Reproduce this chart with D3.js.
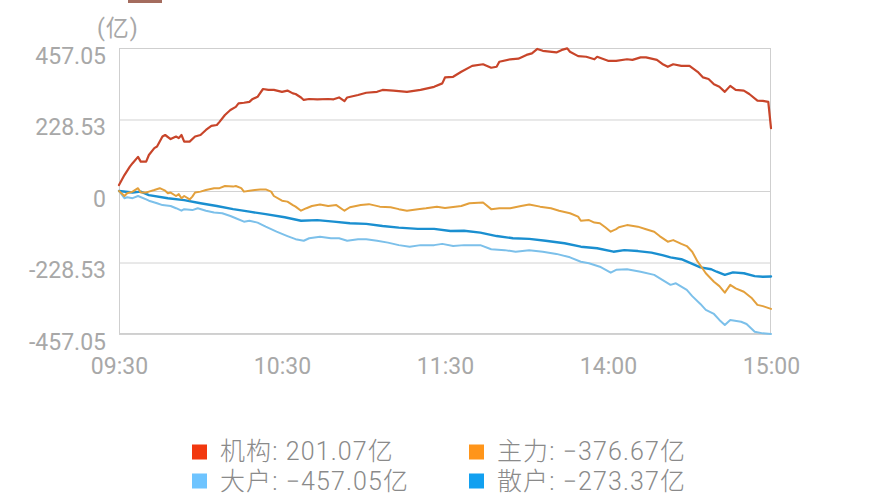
<!DOCTYPE html>
<html><head><meta charset="utf-8">
<script src="https://cdn.jsdelivr.net/npm/d3@7"></script>
<style>
html,body{margin:0;padding:0;background:#fff;}
svg{display:block;font-family:Roboto,"Noto Sans CJK SC",sans-serif;}
</style></head>
<body>
<svg id="chart" width="891" height="500"></svg>
<script>
// ---- data ----
const xTickMinutes = [0, 60, 120, 180, 240];
const xTickLabels = ["09:30", "10:30", "11:30", "14:00", "15:00"];
const yTicks = [457.05, 228.53, 0, -228.53, -457.05];
const yTickLabels = ["457.05", "228.53", "0", "-228.53", "-457.05"];
const unitLabel = "(亿)";
const seriesNames = ["机构", "主力", "大户", "散户"];
const seriesFinal = ["201.07", "−376.67", "−457.05", "−273.37"];

// [minute index, value 亿]
const jigou = [[0,19],[2,51],[4,78],[5,89],[7,109],[8,94],[10,94],[11,115],[13,137],[14,142],[16,174],[17,179],[19,166],[21,174],[22,169],[23,179],[24,158],[26,158],[28,174],[30,179],[32,195],[34,208],[36,211],[37,221],[39,243],[41,259],[43,269],[44,280],[46,282],[48,285],[49,293],[51,301],[53,326],[55,323],[57,323],[60,317],[62,321],[64,312],[65,310],[67,299],[68,291],[70,294],[73,293],[77,294],[79,293],[81,299],[83,287],[84,299],[88,307],[91,314],[95,317],[97,323],[101,321],[106,317],[111,323],[116,333],[119,344],[120,363],[123,365],[126,381],[130,400],[134,405],[137,394],[139,397],[140,413],[144,421],[147,423],[150,435],[152,440],[154,454],[156,448],[161,443],[163,451],[165,456],[166,445],[169,431],[172,429],[175,421],[176,429],[180,416],[183,416],[187,421],[189,419],[192,427],[194,427],[198,419],[200,406],[202,397],[204,405],[207,400],[210,400],[213,381],[215,363],[217,358],[219,341],[221,333],[223,317],[225,336],[227,323],[230,321],[232,310],[235,289],[237,288],[239,285],[240,201.07]];
const zhuli = [[0,0],[2,-16],[3,-7],[5,-2],[7,9],[8,-5],[10,-5],[11,-2],[13,3],[15,9],[17,1],[18,-7],[19,-5],[21,-16],[22,-10],[23,-23],[24,-16],[26,-27],[27,-18],[28,-5],[30,-2],[32,3],[35,9],[37,9],[39,16],[42,14],[43,16],[45,9],[46,-2],[48,1],[50,3],[52,5],[54,5],[56,-2],[57,-16],[60,-31],[62,-34],[64,-45],[65,-50],[67,-63],[69,-55],[71,-48],[74,-43],[77,-48],[80,-45],[83,-63],[85,-52],[89,-45],[92,-42],[96,-50],[100,-52],[103,-58],[106,-63],[110,-58],[113,-55],[117,-50],[120,-54],[126,-48],[129,-39],[134,-37],[137,-58],[140,-55],[144,-55],[148,-48],[151,-43],[155,-50],[159,-55],[162,-63],[166,-71],[169,-82],[170,-95],[173,-93],[175,-101],[177,-103],[179,-116],[181,-130],[183,-122],[184,-116],[187,-109],[191,-114],[194,-122],[197,-130],[199,-144],[202,-162],[204,-157],[207,-169],[209,-176],[211,-194],[213,-226],[215,-250],[216,-263],[219,-290],[221,-304],[223,-325],[225,-300],[227,-311],[230,-322],[233,-343],[235,-364],[237,-368],[240,-376.67]];
const dahu = [[0,0],[2,-23],[3,-20],[5,-23],[7,-16],[10,-27],[11,-31],[14,-39],[16,-45],[19,-48],[21,-55],[23,-63],[24,-58],[27,-61],[29,-55],[32,-63],[35,-69],[38,-71],[41,-80],[43,-87],[46,-98],[48,-95],[51,-101],[54,-114],[58,-130],[62,-144],[65,-154],[68,-159],[70,-151],[74,-146],[78,-151],[81,-151],[84,-159],[88,-154],[91,-154],[95,-159],[99,-165],[103,-173],[107,-178],[111,-173],[116,-173],[119,-169],[123,-176],[127,-173],[133,-173],[137,-186],[142,-189],[146,-194],[151,-189],[156,-194],[161,-201],[166,-212],[170,-226],[173,-231],[177,-242],[181,-261],[183,-252],[187,-250],[192,-258],[197,-268],[200,-284],[203,-300],[205,-295],[209,-316],[211,-336],[214,-361],[216,-380],[219,-393],[221,-412],[223,-428],[225,-412],[229,-418],[231,-425],[234,-450],[237,-455],[240,-457.05]];
const sanhu = [[0,0],[5,-5],[8,-2],[11,-13],[18,-23],[24,-29],[30,-39],[36,-48],[42,-58],[48,-66],[54,-74],[61,-84],[67,-95],[73,-93],[79,-98],[85,-103],[91,-105],[97,-112],[103,-117],[110,-121],[116,-121],[122,-128],[127,-127],[133,-133],[139,-144],[145,-151],[151,-153],[157,-159],[164,-167],[170,-178],[176,-183],[182,-194],[186,-189],[191,-192],[196,-197],[200,-205],[203,-212],[207,-218],[210,-229],[214,-244],[218,-250],[220,-258],[223,-268],[226,-260],[230,-263],[234,-272],[237,-274],[240,-273.37]];

// ---- styles ----
const lineColors = {"机构":"#c8452a","主力":"#e3a03c","大户":"#7cc0ea","散户":"#1a8fd0"};
const legendColors = {"机构":"#f2380f","主力":"#ff951a","大户":"#6ec4ff","散户":"#12a0f0"};

const svg = d3.select("#chart");
const L = 119, R = 771, T = 48, B = 334;
const x = d3.scaleLinear().domain([0, 240]).range([L, R]);
const y = d3.scaleLinear().domain([-457.05, 457.05]).range([B, T]);

// decorative mark at top
svg.append("rect").attr("x",128).attr("y",0).attr("width",34).attr("height",3).attr("fill","#a46c5e");

// y axis with gridlines
const yAxis = d3.axisLeft(y).tickValues(yTicks)
  .tickFormat((d,i)=>yTickLabels[i]).tickSize(-(R-L)).tickPadding(13);
const gy = svg.append("g").attr("transform",`translate(${L},0)`).call(yAxis);
gy.select(".domain").remove();
gy.selectAll(".tick line").attr("stroke","#d2d2d2").attr("stroke-width",1);
gy.selectAll(".tick text").attr("fill","#a8a8a8").attr("font-size",23)
  .attr("dy",null).attr("y",15).style("font-family","Roboto,sans-serif");

// box
svg.append("rect").attr("x",L+0.5).attr("y",T+0.5).attr("width",R-L-1).attr("height",B-T-1)
  .attr("fill","none").attr("stroke","#cfcfcf").attr("stroke-width",1);

// x axis
const xAxis = d3.axisBottom(x).tickValues(xTickMinutes)
  .tickFormat((d,i)=>xTickLabels[i]).tickSize(0).tickPadding(24);
const gx = svg.append("g").attr("transform",`translate(0,${B})`).call(xAxis);
gx.select(".domain").remove();
gx.selectAll(".tick text").attr("fill","#a8a8a8").attr("font-size",23)
  .style("font-family","Roboto,sans-serif");

// unit
svg.append("text").attr("x",97).attr("y",36).attr("fill","#a8a8a8")
  .attr("font-size",23).attr("letter-spacing",1).text(unitLabel);

// lines
const line = d3.line().x(d=>x(d[0])).y(d=>y(d[1]));
const drawOrder = [["大户",dahu,2],["散户",sanhu,2.4],["主力",zhuli,2],["机构",jigou,2.2]];
drawOrder.forEach(([name,data,w])=>{
  svg.append("path").datum(data).attr("d",line).attr("fill","none")
    .attr("stroke",lineColors[name]).attr("stroke-width",w)
    .attr("stroke-linejoin","round").attr("stroke-linecap","round");
});

// legend
const legPos = [[192,452],[469,452],[192,481],[469,481]];
seriesNames.forEach((name,i)=>{
  const [lx,ly] = legPos[i];
  svg.append("rect").attr("x",lx).attr("y",ly-7.5).attr("width",15).attr("height",15)
    .attr("fill",legendColors[name]);
  svg.append("text").attr("x",lx+28).attr("y",ly+(i<2?8:9)).attr("fill","#8a8a8a")
    .attr("font-size",25).attr("letter-spacing",1.1).style("font-weight",300)
    .text(`${name}: ${seriesFinal[i]}亿`);
});
</script>
</body></html>
